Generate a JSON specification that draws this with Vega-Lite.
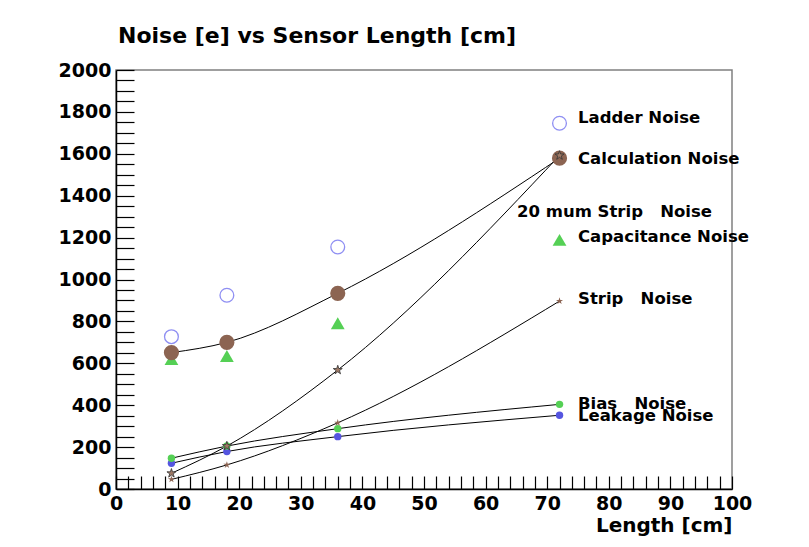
{
  "$schema": "https://vega.github.io/schema/vega-lite/v6.json",
  "width": 616,
  "height": 419,
  "autosize": {"type": "none"},
  "padding": {"left": 116, "top": 70, "right": 77, "bottom": 58},
  "background": "white",
  "title": {
    "text": "Noise [e] vs Sensor Length [cm]",
    "anchor": "middle",
    "dx": -107,
    "dy": 32,
    "offset": 28,
    "baseline": "alphabetic",
    "font": "DejaVu Sans",
    "fontSize": 22,
    "fontWeight": "bold",
    "color": "black"
  },
  "config": {
    "view": {"stroke": "#808080", "strokeWidth": 1.5},
    "font": "DejaVu Sans"
  },
  "datasets": {
    "noise": [
      {"series": "Ladder", "length": 9, "noise": 727},
      {"series": "Ladder", "length": 18, "noise": 925},
      {"series": "Ladder", "length": 36, "noise": 1155},
      {"series": "Ladder", "length": 72, "noise": 1746},
      {"series": "Capacitance", "length": 9, "noise": 620},
      {"series": "Capacitance", "length": 18, "noise": 635},
      {"series": "Capacitance", "length": 36, "noise": 791},
      {"series": "Capacitance", "length": 72, "noise": 1189},
      {"series": "Calculation", "length": 9, "noise": 651},
      {"series": "Calculation", "length": 18, "noise": 700},
      {"series": "Calculation", "length": 36, "noise": 934},
      {"series": "Calculation", "length": 72, "noise": 1579},
      {"series": "Leakage", "length": 9, "noise": 123},
      {"series": "Leakage", "length": 18, "noise": 179},
      {"series": "Leakage", "length": 36, "noise": 250},
      {"series": "Leakage", "length": 72, "noise": 352},
      {"series": "Bias", "length": 9, "noise": 147},
      {"series": "Bias", "length": 18, "noise": 205},
      {"series": "Bias", "length": 36, "noise": 288},
      {"series": "Bias", "length": 72, "noise": 404},
      {"series": "Strip", "length": 9, "noise": 46},
      {"series": "Strip", "length": 18, "noise": 115},
      {"series": "Strip", "length": 36, "noise": 316},
      {"series": "Strip", "length": 72, "noise": 897},
      {"series": "Strip20", "length": 9, "noise": 75},
      {"series": "Strip20", "length": 18, "noise": 205},
      {"series": "Strip20", "length": 36, "noise": 568},
      {"series": "Strip20", "length": 72, "noise": 1592}
    ],
    "labels": [
      {"text": "Ladder Noise", "length": 75, "noise": 1773},
      {"text": "Calculation Noise", "length": 75, "noise": 1574},
      {"text": "20 mum Strip \u00a0 Noise", "length": 65.1, "noise": 1324},
      {"text": "Capacitance Noise", "length": 75, "noise": 1204},
      {"text": "Strip \u00a0 Noise", "length": 75, "noise": 906},
      {"text": "Bias \u00a0 Noise", "length": 75, "noise": 406},
      {"text": "Leakage Noise", "length": 75, "noise": 348}
    ]
  },
  "data": {"name": "noise"},
  "encoding": {
    "x": {
      "field": "length",
      "type": "quantitative",
      "scale": {"domain": [0, 100], "nice": false, "zero": false},
      "axis": {
        "values": [0,2,4,6,8,10,12,14,16,18,20,22,24,26,28,30,32,34,36,38,40,42,44,46,48,50,52,54,56,58,60,62,64,66,68,70,72,74,76,78,80,82,84,86,88,90,92,94,96,98,100],
        "format": "d",
        "labelExpr": "datum.value % 10 === 0 ? datum.label : ''",
        "tickSize": -13,
        "encode": {"ticks": {"update": {"y2": {"signal": "datum.value % 10 === 0 ? -13 : -6"}}}},
        "labelPadding": 18,
        "labelOverlap": false,
        "labelFlush": false,
        "labelFont": "DejaVu Sans",
        "labelFontWeight": "bold",
        "labelFontSize": 19,
        "labelColor": "black",
        "domainColor": "black",
        "domainWidth": 1.5,
        "tickColor": "black",
        "tickWidth": 1.2,
        "grid": false,
        "orient": "bottom",
        "title": "Length [cm]",
        "titleAnchor": "end",
        "titleFont": "DejaVu Sans",
        "titleFontWeight": "bold",
        "titleFontSize": 20,
        "titleColor": "black",
        "titlePadding": 2
      }
    },
    "y": {
      "field": "noise",
      "type": "quantitative",
      "scale": {"domain": [0, 2000], "nice": false, "zero": false},
      "axis": {
        "values": [0,50,100,150,200,250,300,350,400,450,500,550,600,650,700,750,800,850,900,950,1000,1050,1100,1150,1200,1250,1300,1350,1400,1450,1500,1550,1600,1650,1700,1750,1800,1850,1900,1950,2000],
        "format": "d",
        "labelExpr": "datum.value % 200 === 0 ? datum.label : ''",
        "tickSize": -18,
        "encode": {"ticks": {"update": {"x2": {"signal": "datum.value % 200 === 0 ? 18 : 10"}}}},
        "labelPadding": 23,
        "labelOverlap": false,
        "labelFlush": false,
        "labelFont": "DejaVu Sans",
        "labelFontWeight": "bold",
        "labelFontSize": 19,
        "labelColor": "black",
        "domainColor": "black",
        "domainWidth": 1.5,
        "tickColor": "black",
        "tickWidth": 1.2,
        "grid": false,
        "orient": "left",
        "title": null
      }
    }
  },
  "layer": [
    {
      "transform": [{"filter": {"field": "series", "oneOf": ["Calculation", "Strip20", "Strip", "Bias", "Leakage"]}}],
      "mark": {"type": "line", "interpolate": "monotone", "color": "black", "strokeWidth": 1},
      "encoding": {"detail": {"field": "series"}}
    },
    {
      "transform": [{"filter": {"field": "series", "equal": "Ladder"}}],
      "mark": {"type": "point", "shape": "circle", "filled": false, "stroke": "#6060ee", "strokeWidth": 1.3, "size": 190}
    },
    {
      "transform": [{"filter": {"field": "series", "equal": "Capacitance"}}],
      "mark": {"type": "point", "shape": "triangle-up", "filled": true, "fill": "#55d055", "opacity": 1, "size": 190}
    },
    {
      "transform": [{"filter": {"field": "series", "equal": "Calculation"}}],
      "mark": {"type": "point", "shape": "circle", "filled": true, "fill": "#8c6452", "opacity": 1, "size": 230}
    },
    {
      "transform": [{"filter": {"field": "series", "equal": "Leakage"}}],
      "mark": {"type": "point", "shape": "circle", "filled": true, "fill": "#5555e0", "opacity": 1, "size": 55}
    },
    {
      "transform": [{"filter": {"field": "series", "equal": "Bias"}}],
      "mark": {"type": "point", "shape": "circle", "filled": true, "fill": "#55d055", "opacity": 1, "size": 55}
    },
    {
      "transform": [{"filter": {"field": "series", "equal": "Strip"}}],
      "mark": {"type": "point", "shape": "M0,-1L0.2245,-0.309L0.951,-0.309L0.363,0.118L0.588,0.809L0,0.382L-0.588,0.809L-0.363,0.118L-0.951,-0.309L-0.2245,-0.309Z", "filled": true, "fill": "#8c6452", "opacity": 1, "size": 55}
    },
    {
      "transform": [{"filter": {"field": "series", "equal": "Strip20"}}],
      "mark": {"type": "point", "shape": "M0,-1L0.2245,-0.309L0.951,-0.309L0.363,0.118L0.588,0.809L0,0.382L-0.588,0.809L-0.363,0.118L-0.951,-0.309L-0.2245,-0.309Z", "filled": true, "fill": "#a07a66", "stroke": "#333333", "strokeWidth": 0.8, "opacity": 1, "size": 90}
    },
    {
      "data": {"name": "labels"},
      "mark": {"type": "text", "align": "left", "baseline": "middle", "font": "DejaVu Sans", "fontWeight": "bold", "fontSize": 16.5, "color": "black"},
      "encoding": {"text": {"field": "text"}}
    }
  ]
}
